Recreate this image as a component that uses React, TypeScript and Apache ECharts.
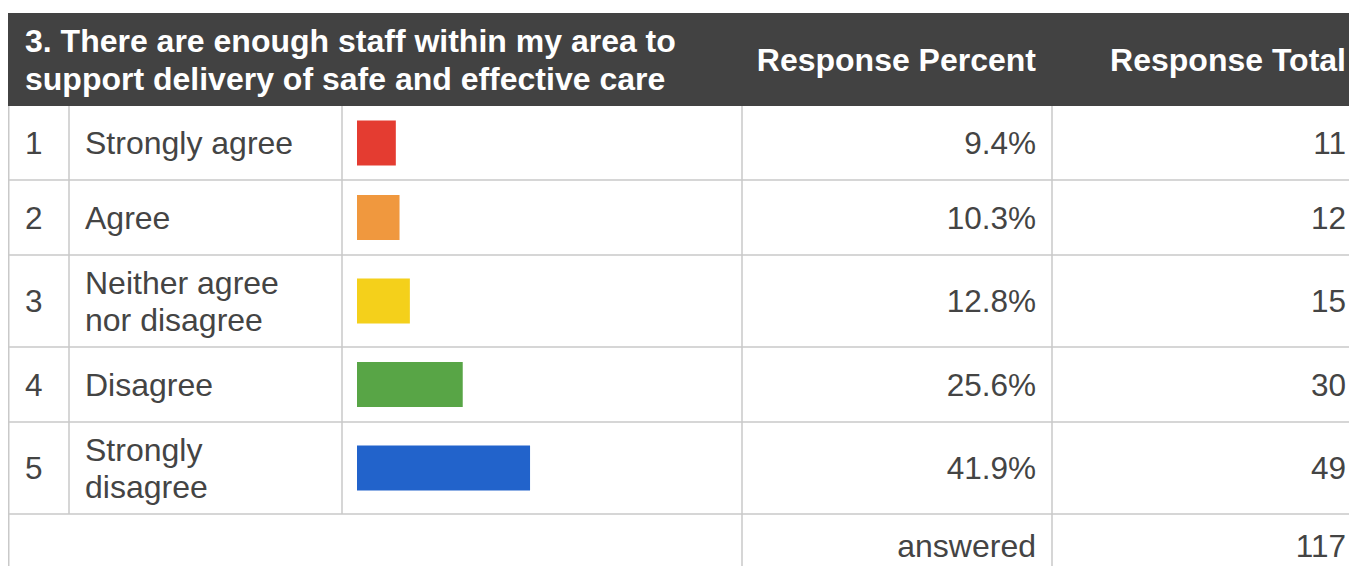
import React, { useEffect, useRef } from "react";
import * as echarts from "echarts";

// ---- data ----
const questionLines = [
  "3. There are enough staff within my area to",
  "support delivery of safe and effective care",
];
const headerLabels = ["Response Percent", "Response Total"];
const rowNumbers = ["1", "2", "3", "4", "5"];
const categories = [
  "Strongly agree",
  "Agree",
  "Neither agree\nnor disagree",
  "Disagree",
  "Strongly\ndisagree",
];
const percents = [9.4, 10.3, 12.8, 25.6, 41.9];
const totals = [11, 12, 15, 30, 49];
const answeredLabel = "answered";
const answeredTotal = 117;
const barColors = ["#E43C31", "#F0983E", "#F4D01B", "#58A546", "#2263CB"];

// ---- layout ----
const W = 1349;
const H = 566;
const FONT = '"Liberation Sans", Arial, sans-serif';
const TEXT = "#444444";
const LINE = "#c9c9c9";
const headerTop = 13;
const rowLines = [106, 180, 255, 347, 422, 514];
const colX = [8, 69, 342, 742, 1052, 1362];
const barLeft = 357;
const barFullWidth = 413;
const barHeight = 45;
const fontSize = 32;
const numSize = 31.5;

export default function App() {
  const ref = useRef<HTMLDivElement>(null);

  useEffect(() => {
    if (!ref.current) return;
    const chart = echarts.init(ref.current, null, { renderer: "svg" });

    const rowCenter = (i: number) => (rowLines[i] + rowLines[i + 1]) / 2;
    const graphics: any[] = [];

    // header background
    graphics.push({
      type: "rect",
      shape: { x: colX[0], y: headerTop, width: W - colX[0], height: rowLines[0] - headerTop },
      style: { fill: "#424242" },
      z: 0,
    });
    graphics.push({
      type: "text",
      x: 25,
      y: (headerTop + rowLines[0]) / 2,
      style: {
        text: questionLines.join("\n"),
        fill: "#ffffff",
        font: `bold ${fontSize}px ${FONT}`,
        lineHeight: 38,
        verticalAlign: "middle",
        align: "left",
      },
      z: 5,
    });
    headerLabels.forEach((t, k) => {
      graphics.push({
        type: "text",
        x: colX[4 + k] - 16,
        y: (headerTop + rowLines[0]) / 2,
        style: {
          text: t,
          fill: "#ffffff",
          font: `bold ${fontSize}px ${FONT}`,
          align: "right",
          verticalAlign: "middle",
        },
        z: 5,
      });
    });

    // grid lines
    const hline = (y: number) =>
      graphics.push({
        type: "line",
        shape: { x1: colX[0], y1: y, x2: W, y2: y },
        style: { stroke: LINE, lineWidth: 1.5 },
        z: 1,
      });
    const vline = (x: number, y1: number, y2: number) =>
      graphics.push({
        type: "line",
        shape: { x1: x, y1, x2: x, y2 },
        style: { stroke: LINE, lineWidth: 1.5 },
        z: 1,
      });
    rowLines.slice(1).forEach((y) => hline(y));
    vline(colX[0] + 0.75, rowLines[0], H);
    vline(colX[1], rowLines[0], rowLines[5]);
    vline(colX[2], rowLines[0], rowLines[5]);
    vline(colX[3], rowLines[0], H);
    vline(colX[4], rowLines[0], H);

    // row texts
    categories.forEach((c, i) => {
      const cy = rowCenter(i);
      graphics.push({
        type: "text",
        x: 25,
        y: cy,
        style: { text: rowNumbers[i], fill: TEXT, font: `${numSize}px ${FONT}`, verticalAlign: "middle" },
        z: 5,
      });
      graphics.push({
        type: "text",
        x: 85,
        y: cy,
        style: {
          text: c,
          fill: TEXT,
          font: `${fontSize}px ${FONT}`,
          lineHeight: 37,
          verticalAlign: "middle",
        },
        z: 5,
      });
      graphics.push({
        type: "text",
        x: colX[4] - 16,
        y: cy,
        style: {
          text: percents[i].toFixed(1) + "%",
          fill: TEXT,
          font: `${numSize}px ${FONT}`,
          align: "right",
          verticalAlign: "middle",
        },
        z: 5,
      });
      graphics.push({
        type: "text",
        x: colX[5] - 16,
        y: cy,
        style: {
          text: String(totals[i]),
          fill: TEXT,
          font: `${numSize}px ${FONT}`,
          align: "right",
          verticalAlign: "middle",
        },
        z: 5,
      });
    });

    // answered row
    const ay = 546;
    graphics.push({
      type: "text",
      x: colX[4] - 16,
      y: ay,
      style: { text: answeredLabel, fill: TEXT, font: `${fontSize}px ${FONT}`, align: "right", verticalAlign: "middle" },
      z: 5,
    });
    graphics.push({
      type: "text",
      x: colX[5] - 16,
      y: ay,
      style: { text: String(answeredTotal), fill: TEXT, font: `${numSize}px ${FONT}`, align: "right", verticalAlign: "middle" },
      z: 5,
    });

    chart.setOption({
      animation: false,
      backgroundColor: "#ffffff",
      grid: { left: barLeft, width: barFullWidth, top: rowLines[0], height: rowLines[5] - rowLines[0] },
      xAxis: { type: "value", min: 0, max: 100, show: false },
      yAxis: { type: "category", data: categories, show: false, inverse: true },
      series: [
        {
          type: "custom",
          data: percents.map((p, i) => [p, i]),
          renderItem: (params: any, api: any) => {
            const idx = params.dataIndex;
            const x0 = api.coord([0, idx])[0];
            const x1 = api.coord([api.value(0), idx])[0];
            const cy = rowCenter(idx);
            return {
              type: "rect",
              shape: { x: x0, y: cy - barHeight / 2, width: x1 - x0, height: barHeight },
              style: { fill: barColors[idx] },
            };
          },
          z: 3,
        },
      ],
      graphic: graphics,
    });

    return () => chart.dispose();
  }, []);

  return (
    <div
      ref={ref}
      style={{ position: "fixed", left: 0, top: 0, width: W, height: H }}
    />
  );
}
